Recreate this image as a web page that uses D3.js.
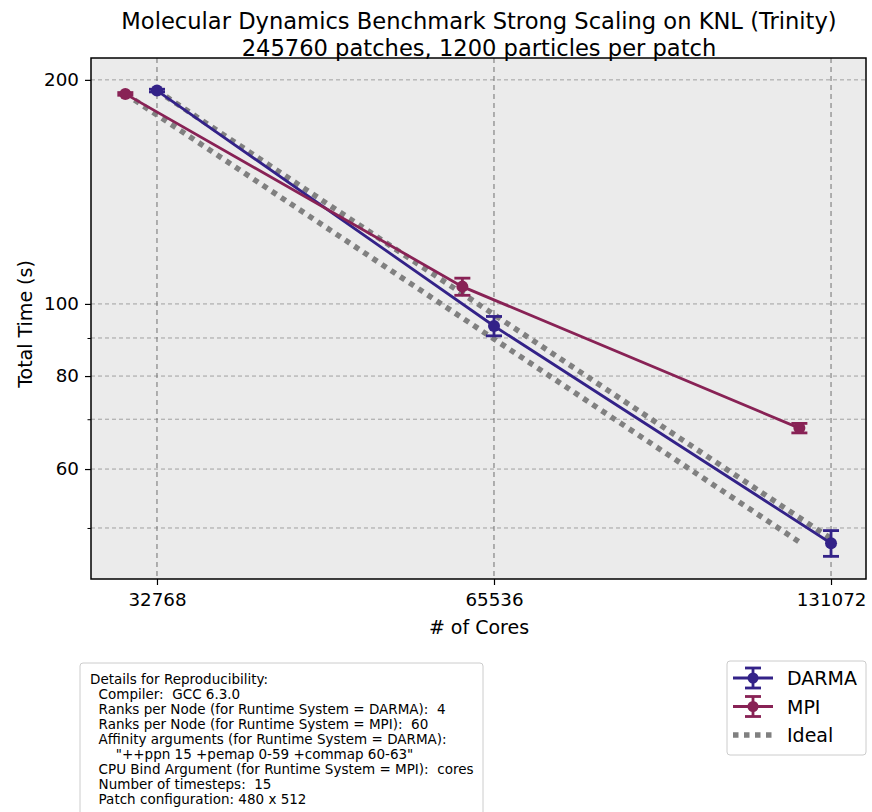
<!DOCTYPE html>
<html><head><meta charset="utf-8">
<script src="https://cdn.jsdelivr.net/npm/d3@7"></script>
<style>body{margin:0;background:#fff;} text{font-family:"DejaVu Sans",sans-serif;}</style>
</head><body><svg id="c" width="872" height="812"></svg>
<script>
const cores = [32768, 65536, 131072];
const darmaTime = [193.5, 93.4, 47.7];
const darmaErr = [0.8, 2.8, 1.9];
const mpiTime = [191.5, 105.5, 68.1];
const mpiErr = [0.8, 2.8, 1.0];
const xTickLabels = ["32768", "65536", "131072"];
const yMajorTicks = [60, 80, 100, 200];
const yMinorTicks = [50, 70, 90];
const detailLines = [
  "Details for Reproducibility:",
  "  Compiler:  GCC 6.3.0",
  "  Ranks per Node (for Runtime System = DARMA):  4",
  "  Ranks per Node (for Runtime System = MPI):  60",
  "  Affinity arguments (for Runtime System = DARMA):",
  "      \"++ppn 15 +pemap 0-59 +commap 60-63\"",
  "  CPU Bind Argument (for Runtime System = MPI):  cores",
  "  Number of timesteps:  15",
  "  Patch configuration: 480 x 512"
];
const mpiDodge = 0.937;
const C_DARMA = "#332288", C_MPI = "#882255", C_IDEAL = "#808080";

const svg = d3.select("#c");
const L = 91, R = 866, T = 58, B = 579;
const x = d3.scaleLog().base(2).domain([28610, 140850]).range([L, R]);
const y = d3.scaleLog().domain([42.7, 214]).range([B, T]);

svg.append("rect").attr("x", L).attr("y", T).attr("width", R - L).attr("height", B - T).attr("fill", "#ebebeb");

// grid
const g = svg.append("g");
yMajorTicks.concat(yMinorTicks).forEach(v => {
  g.append("line").attr("x1", L).attr("x2", R).attr("y1", y(v)).attr("y2", y(v))
    .attr("stroke", "#a0a0a0").attr("stroke-width", 1).attr("stroke-dasharray", "4,3");
});
cores.forEach(v => {
  g.append("line").attr("y1", T).attr("y2", B).attr("x1", x(v)).attr("x2", x(v))
    .attr("stroke", "#707070").attr("stroke-width", 1).attr("stroke-dasharray", "5,4");
});

// axes
const xAxis = d3.axisBottom(x).tickValues(cores).tickFormat((d, i) => xTickLabels[i]).tickSize(6).tickPadding(8);
const gx = svg.append("g").attr("transform", `translate(0,${B})`).call(xAxis);
gx.select(".domain").remove();
gx.selectAll("text").attr("font-size", 18.3).attr("fill", "#000").style("font-family", "DejaVu Sans");
gx.selectAll("line").attr("stroke", "#000").attr("stroke-width", 1.2);

const yAxis = d3.axisLeft(y).tickValues(yMajorTicks).tickFormat(d3.format("d")).tickSize(6).tickPadding(6);
const gy = svg.append("g").attr("transform", `translate(${L},0)`).call(yAxis);
gy.select(".domain").remove();
gy.selectAll("text").attr("font-size", 18.3).attr("fill", "#000").style("font-family", "DejaVu Sans");
gy.selectAll("line").attr("stroke", "#000").attr("stroke-width", 1.2);
const yMinor = d3.axisLeft(y).tickValues(yMinorTicks).tickFormat("").tickSize(3.5);
const gym = svg.append("g").attr("transform", `translate(${L},0)`).call(yMinor);
gym.select(".domain").remove();
gym.selectAll("line").attr("stroke", "#000").attr("stroke-width", 1);

// ideal lines
const line = d3.line().x(d => x(d[0])).y(d => y(d[1]));
const idealD = cores.map(c => [c, darmaTime[0] * cores[0] / c]);
const idealM = cores.map(c => [c * mpiDodge, mpiTime[0] * cores[0] / c]);
[idealD, idealM].forEach(d => {
  svg.append("path").attr("d", line([d[0], d[2]])).attr("fill", "none")
    .attr("stroke", C_IDEAL).attr("stroke-width", 5.5).attr("stroke-dasharray", "5.5,5.5");
});

function series(xs, ys, es, col) {
  const pts = xs.map((c, i) => [c, ys[i]]);
  svg.append("path").attr("d", line(pts)).attr("fill", "none").attr("stroke", col).attr("stroke-width", 2.8);
  pts.forEach((p, i) => {
    const px = x(p[0]);
    const y1 = y(p[1] + es[i]), y2 = y(p[1] - es[i]);
    svg.append("line").attr("x1", px).attr("x2", px).attr("y1", y1).attr("y2", y2).attr("stroke", col).attr("stroke-width", 2.8);
    [y1, y2].forEach(yy => svg.append("line").attr("x1", px - 8).attr("x2", px + 8).attr("y1", yy).attr("y2", yy).attr("stroke", col).attr("stroke-width", 2.8));
    svg.append("circle").attr("cx", px).attr("cy", y(p[1])).attr("r", 6).attr("fill", col);
  });
}
series(cores, darmaTime, darmaErr, C_DARMA);
series(cores.map(c => c * mpiDodge), mpiTime, mpiErr, C_MPI);

// frame
svg.append("rect").attr("x", L).attr("y", T).attr("width", R - L).attr("height", B - T)
  .attr("fill", "none").attr("stroke", "#000").attr("stroke-width", 1.5);

// titles
svg.append("text").attr("x", 479).attr("y", 29).attr("text-anchor", "middle").attr("font-size", 22.6)
  .text("Molecular Dynamics Benchmark Strong Scaling on KNL (Trinity)");
svg.append("text").attr("x", 479).attr("y", 56).attr("text-anchor", "middle").attr("font-size", 22.6)
  .text("245760 patches, 1200 particles per patch");
svg.append("text").attr("x", 479).attr("y", 634).attr("text-anchor", "middle").attr("font-size", 19).text("# of Cores");
svg.append("text").attr("transform", "translate(32,324) rotate(-90)").attr("text-anchor", "middle").attr("font-size", 19).text("Total Time (s)");

// legend
svg.append("rect").attr("x", 727).attr("y", 661).attr("width", 139).attr("height", 94).attr("rx", 3)
  .attr("fill", "#fff").attr("stroke", "#ccc").attr("stroke-width", 1);
const legendItems = [["DARMA", C_DARMA, "e"], ["MPI", C_MPI, "e"], ["Ideal", C_IDEAL, "i"]];
legendItems.forEach((it, i) => {
  const yy = 678 + i * 28.5;
  const lg = svg.append("g");
  if (it[2] === "e") {
    lg.append("line").attr("x1", 733).attr("x2", 773).attr("y1", yy).attr("y2", yy).attr("stroke", it[1]).attr("stroke-width", 2.8);
    lg.append("line").attr("x1", 753).attr("x2", 753).attr("y1", yy - 10).attr("y2", yy + 10).attr("stroke", it[1]).attr("stroke-width", 2.8);
    [yy - 10, yy + 10].forEach(q => lg.append("line").attr("x1", 745).attr("x2", 761).attr("y1", q).attr("y2", q).attr("stroke", it[1]).attr("stroke-width", 2.8));
    lg.append("circle").attr("cx", 753).attr("cy", yy).attr("r", 5.5).attr("fill", it[1]);
  } else {
    lg.append("line").attr("x1", 733).attr("x2", 773).attr("y1", yy).attr("y2", yy).attr("stroke", it[1]).attr("stroke-width", 5.5).attr("stroke-dasharray", "5.5,5.5");
  }
  lg.append("text").attr("x", 787).attr("y", yy + 7).attr("font-size", 19).text(it[0]);
});

// details box
svg.append("rect").attr("x", 80).attr("y", 663).attr("width", 403).attr("height", 160).attr("rx", 3)
  .attr("fill", "#fff").attr("stroke", "#ccc").attr("stroke-width", 1);
detailLines.forEach((t, i) => {
  svg.append("text").attr("x", 90).attr("y", 683.5 + i * 15.1).attr("font-size", 13.5)
    .attr("xml:space", "preserve").style("white-space", "pre").text(t);
});
</script></body></html>
